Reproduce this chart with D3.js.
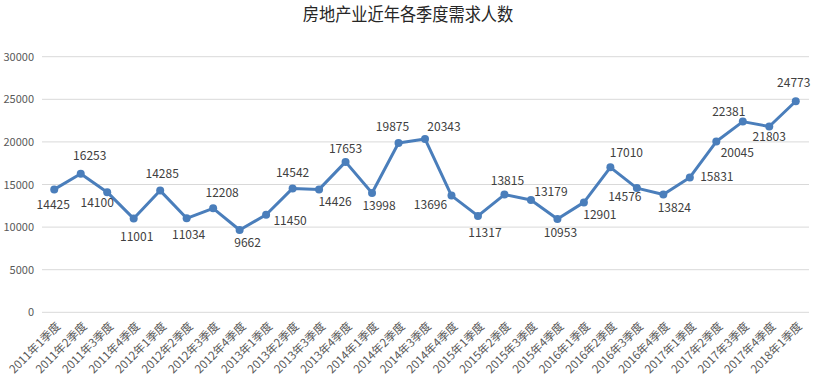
<!DOCTYPE html>
<html><head><meta charset="utf-8">
<script src="https://cdn.jsdelivr.net/npm/d3@7"></script>
<style>
body{margin:0;background:#fff;}
text{font-family:"Noto Sans CJK SC","Noto Sans",sans-serif;}
</style></head>
<body><svg id="c" width="816" height="382"></svg>
<script>
const categories = ["2011年1季度","2011年2季度","2011年3季度","2011年4季度","2012年1季度","2012年2季度","2012年3季度","2012年4季度","2013年1季度","2013年2季度","2013年3季度","2013年4季度","2014年1季度","2014年2季度","2014年3季度","2014年4季度","2015年1季度","2015年2季度","2015年3季度","2015年4季度","2016年1季度","2016年2季度","2016年3季度","2016年4季度","2017年1季度","2017年2季度","2017年3季度","2017年4季度","2018年1季度"];
const values = [14425,16253,14100,11001,14285,11034,12208,9662,11450,14542,14426,17653,13998,19875,20343,13696,11317,13815,13179,10953,12901,17010,14576,13824,15831,20045,22381,21803,24773];
const yTicks = [0,5000,10000,15000,20000,25000,30000];
const title = "房地产业近年各季度需求人数";
// label offsets (dx, dy) relative to each point — layout only
const labelOffsets = [[-1,16],[9,-18],[-10,11],[3,18],[2,-17],[2,17],[9,-15],[8,13],[24,6],[0,-15],[16,13],[0,-13],[7,13],[-6,-16],[19,-12],[-21,9],[7,17],[3,-14],[20,-8],[3,14],[16,13],[16,-14],[-12,9],[11,13],[27,0],[21,11],[-14,-10],[0,10],[-2,-18]];

const svg = d3.select("#c");
const x = d3.scaleBand().domain(categories).range([41,809]);
const y = d3.scaleLinear().domain([0,30000]).range([312.3,56.7]);
const cx = d => x(d) + x.bandwidth()/2;

svg.append("text").attr("transform","translate(408,21) scale(0.9,1)").attr("text-anchor","middle")
  .attr("font-size",18).attr("fill","#262626").text(title);

const yAxis = svg.append("g");
yAxis.selectAll("line").data(yTicks).join("line")
  .attr("x1",42).attr("x2",809).attr("y1",d=>y(d)).attr("y2",d=>y(d))
  .attr("stroke","#d9d9d9").attr("stroke-width",1);
yAxis.selectAll("text").data(yTicks).join("text")
  .attr("x",34).attr("y",d=>y(d)+4).attr("text-anchor","end")
  .attr("font-size",11).attr("fill","#595959").text(d=>d);

svg.append("g").selectAll("text").data(categories).join("text")
  .attr("transform",d=>`translate(${cx(d)+7},${327}) rotate(-45)`)
  .attr("text-anchor","end").attr("font-size",11.5).attr("fill","#595959").text(d=>d);

const line = d3.line().x((d,i)=>cx(categories[i])).y(d=>y(d));
svg.append("path").datum(values).attr("d",line).attr("fill","none")
  .attr("stroke","#4a7ebb").attr("stroke-width",3).attr("stroke-linejoin","round");
svg.append("g").selectAll("circle").data(values).join("circle")
  .attr("cx",(d,i)=>cx(categories[i])).attr("cy",d=>y(d)).attr("r",4).attr("fill","#4a7ebb");

svg.append("g").selectAll("text").data(values).join("text")
  .attr("x",(d,i)=>cx(categories[i])+labelOffsets[i][0])
  .attr("y",(d,i)=>y(d)+labelOffsets[i][1]+4)
  .attr("text-anchor","middle").attr("font-size",12).attr("fill","#404040").text(d=>d);
</script></body></html>
